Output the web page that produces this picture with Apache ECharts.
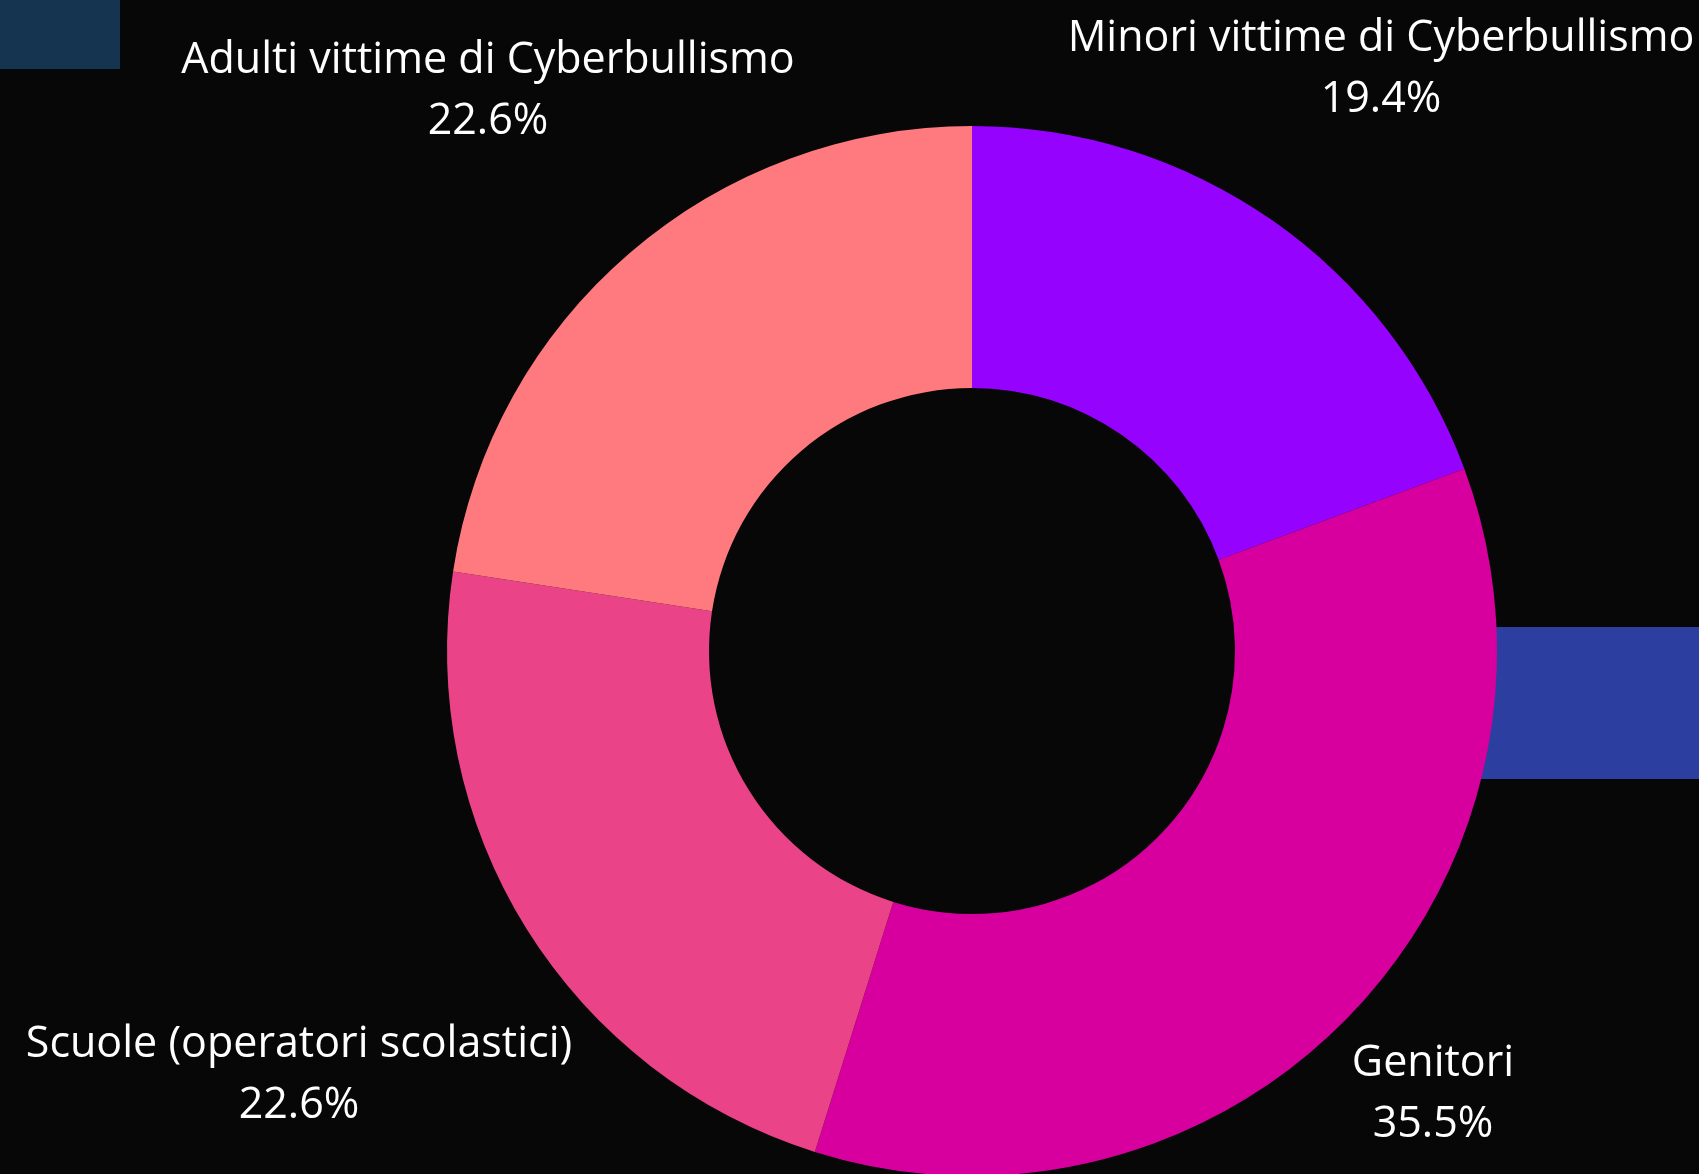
<!DOCTYPE html>
<html>
<head>
<meta charset="utf-8">
<script src="https://cdn.jsdelivr.net/npm/echarts@6/dist/echarts.min.js"></script>
<style>
  html, body { margin: 0; padding: 0; background: #070707; }
  #chart { width: 1699px; height: 1174px; }
</style>
</head>
<body>
<div id="chart"></div>
<script>
// slices in clockwise order from 12 o'clock
const categories = [
  "Minori vittime di Cyberbullismo",
  "Genitori",
  "Scuole (operatori scolastici)",
  "Adulti vittime di Cyberbullismo",
];
const counts = [6, 11, 7, 7];
const sliceColors = ["#9502fe", "#d7009e", "#ea4387", "#ff7a7e"];

// where each label block is centred (pixels)
const labelCenters = [
  [1381, 69],
  [1433, 1094],
  [299, 1075],
  [488, 91],
];

const total = counts.reduce((a, b) => a + b, 0);

const chart = echarts.init(document.getElementById("chart"));

chart.setOption({
  backgroundColor: "#070707",
  animation: false,
  graphic: [
    {
      type: "rect",
      z: 0,
      shape: { x: 0, y: 0, width: 120, height: 69 },
      style: { fill: "#14344f" },
    },
    {
      type: "rect",
      z: 0,
      shape: { x: 1300, y: 627, width: 399, height: 152 },
      style: { fill: "#2d3ea1" },
    },
  ],
  series: [
    {
      type: "pie",
      z: 5,
      center: [972, 651],
      radius: [263, 525],
      startAngle: 90,
      clockwise: true,
      avoidLabelOverlap: false,
      data: categories.map((name, i) => ({
        name,
        value: counts[i],
        itemStyle: { color: sliceColors[i] },
      })),
      itemStyle: { borderWidth: 0 },
      emphasis: { disabled: true },
      label: {
        show: true,
        position: "outside",
        color: "#ffffff",
        fontFamily: "Open Sans",
        fontSize: 43,
        lineHeight: 61,
        align: "center",
        formatter: p => p.name + "\n" + (p.value / total * 100).toFixed(1) + "%",
      },
      labelLine: { show: false },
      labelLayout: params => ({
        x: labelCenters[params.dataIndex][0],
        y: labelCenters[params.dataIndex][1],
        align: "center",
        verticalAlign: "middle",
      }),
    },
  ],
});
</script>
</body>
</html>
